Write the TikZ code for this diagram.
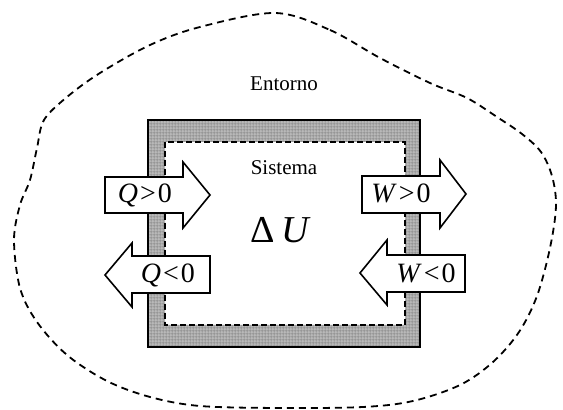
\documentclass[tikz,border=0pt]{standalone}
\usepackage{fontspec}
\setmainfont{Liberation Serif}
\usetikzlibrary{patterns.meta}
\tikzdeclarepattern{
  name=finegrid,
  type=uncolored,
  bounding box={(0pt,0pt) and (1.6pt,1.6pt)},
  tile size={(1.6pt,1.6pt)},
  code={
    \pgfsetlinewidth{0.55pt}
    \pgfpathmoveto{\pgfpoint{0pt}{0.8pt}}
    \pgfpathlineto{\pgfpoint{1.6pt}{0.8pt}}
    \pgfpathmoveto{\pgfpoint{0.8pt}{0pt}}
    \pgfpathlineto{\pgfpoint{0.8pt}{1.6pt}}
    \pgfusepath{stroke}
  }
}
\begin{document}
\begin{tikzpicture}[x=0.5pt,y=-0.5pt,
  blob/.style={dash pattern=on 3.5pt off 2.5pt, line width=0.9pt},
  flow/.style={draw, fill=white, line width=0.8pt, line join=miter},
  lbl/.style={font=\fontsize{14}{16}\selectfont, anchor=base, inner sep=0pt},
  plain/.style={font=\fontsize{10.5}{12}\selectfont, anchor=base, inner sep=0pt},
  wall/.style={fill=gray!55},
  wallgrid/.style={pattern={finegrid}, pattern color=gray!85},
  inner/.style={dash pattern=on 3pt off 1.5pt, line width=1.2pt},
]
\useasboundingbox (0,0) rectangle (563,410);

% surroundings boundary
\draw[blob] plot[smooth cycle, tension=0.55] coordinates {
  (275,13) (330,30) (380,58) (430,83) (467,98) (497,117) (522,134)
  (541,152) (552,176) (556,206) (550,248) (537,296) (519,332) (493,362)
  (460,385) (413,401) (363,407) (280,408) (200,406) (150,397) (107,381)
  (67,355) (37,322) (20,288) (14,240) (20,205) (30,180) (37,148)
  (44,120) (67,97) (100,73) (150,45) (200,27)};

% wall
\fill[wall, even odd rule] (148,120) rectangle (420,347) (165,142) rectangle (405,325);
\fill[wallgrid, even odd rule] (148,120) rectangle (420,347) (165,142) rectangle (405,325);
\draw[line width=1pt] (148,120) rectangle (420,347);
\draw[inner] (165,142) rectangle (405,325);

% arrows
\draw[flow] (105,177) -- (183,177) -- (183,162) -- (210,195) -- (183,228) -- (183,213) -- (105,213) -- cycle;
\draw[flow] (210,256) -- (132,256) -- (132,243) -- (105,275) -- (132,307) -- (132,293) -- (210,293) -- cycle;
\draw[flow] (362,176) -- (440,176) -- (440,160) -- (466,194) -- (440,228) -- (440,213) -- (362,213) -- cycle;
\draw[flow] (465,255) -- (387,255) -- (387,240) -- (360,273) -- (387,305) -- (387,292) -- (465,292) -- cycle;

% labels
\node[lbl] (qpos) at (145,203) {\textit{Q}\kern1pt>\kern1pt0};
\node[lbl] (qneg) at (168,283) {\textit{Q}\kern1pt<\kern1pt0};
\node[lbl] (wpos) at (401,203) {\textit{W}\kern1pt>\kern1pt0};
\node[lbl] (wneg) at (426,283) {\textit{W}\kern1pt<\kern1pt0};
\node[plain] (entorno) at (284,91) {Entorno};
\node[plain] (sistema) at (284,175) {Sistema};
\node[font=\fontsize{19}{22}\selectfont, anchor=base, inner sep=0pt] (du) at (281,243) {Δ\,\textit{U}};
\end{tikzpicture}
\end{document}
